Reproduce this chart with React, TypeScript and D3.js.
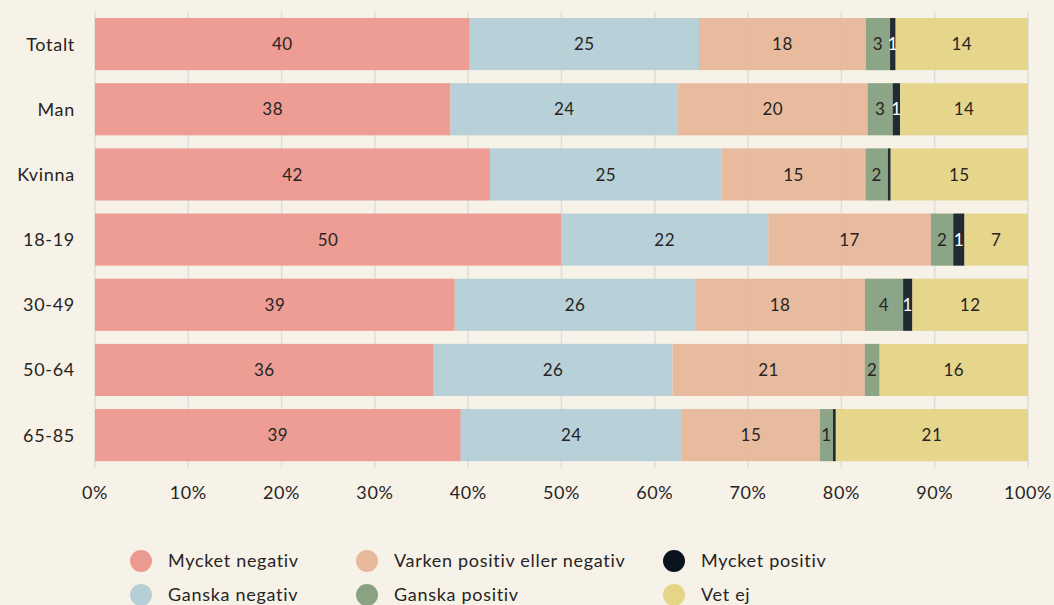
import * as d3 from "d3";
import { useEffect } from "react";

const categories = ["Totalt", "Man", "Kvinna", "18-19", "30-49", "50-64", "65-85"];
const seriesNames = [
  "Mycket negativ",
  "Ganska negativ",
  "Varken positiv eller negativ",
  "Ganska positiv",
  "Mycket positiv",
  "Vet ej",
];
const seriesColors = ["#ec9a90", "#b6ced6", "#e8b99b", "#88a282", "#0b141e", "#e4d587"];

// one array per series, one value per category (percent)
const mycketNegativ = [40.2, 38.1, 42.3, 49.9, 38.6, 36.3, 39.2];
const ganskaNegativ = [24.6, 24.4, 24.8, 22.2, 25.8, 25.6, 23.7];
const varken = [17.9, 20.3, 15.4, 17.4, 18.2, 20.6, 14.8];
const ganskaPositiv = [2.6, 2.7, 2.4, 2.4, 4.1, 1.6, 1.4];
const mycketPositiv = [0.6, 0.8, 0.3, 1.2, 1.0, 0, 0.3];
const vetEj = [14.2, 13.7, 14.7, 6.8, 12.4, 15.9, 20.6];

const xTicks = [0, 0.1, 0.2, 0.3, 0.4, 0.5, 0.6, 0.7, 0.8, 0.9, 1];

const width = 1054;
const height = 605;
const font = "Lato, 'Open Sans', sans-serif";
const textColor = "#262424";

export default function App() {
  useEffect(() => {
    document.body.style.margin = "0";
    document.body.style.background = "#f6f2e8";
  }, []);

  const seriesValues = [mycketNegativ, ganskaNegativ, varken, ganskaPositiv, mycketPositiv, vetEj];
  const rows = categories.map((c, i) => {
    const row: any = { category: c };
    seriesNames.forEach((s, j) => (row[s] = seriesValues[j][i]));
    return row;
  });

  // normalise so each bar fills 0-100%
  const stacked = d3.stack<any>().keys(seriesNames).offset(d3.stackOffsetExpand)(rows);

  const x = d3.scaleLinear().domain([0, 1]).range([95, 1028]);
  const y = d3
    .scaleBand()
    .domain(categories)
    .range([11.5, 467.7])
    .paddingInner(0.2)
    .paddingOuter(0.1);

  const [gridTop, gridBottom] = y.range();

  const legendCols = [141, 367, 674];
  const legendRows = [561, 595];

  return (
    <svg width={width} height={height} style={{ display: "block", background: "#f6f2e8" }}>
      <rect x={0} y={0} width={width} height={height} fill="#f6f2e8" />
      {/* gridlines */}
      {xTicks.map((t) => (
        <line
          key={t}
          x1={x(t)}
          x2={x(t)}
          y1={gridTop}
          y2={gridBottom}
          stroke="#dedcdc"
          strokeWidth={1.5}
        />
      ))}
      {/* bars */}
      {stacked.map((layer, j) => (
        <g key={layer.key} fill={seriesColors[j]}>
          {layer.map((d, i) => {
            const x0 = x(d[0]);
            const x1 = x(d[1]);
            if (x1 - x0 <= 0) return null;
            return (
              <rect
                key={i}
                x={x0}
                y={y(categories[i])}
                width={x1 - x0}
                height={y.bandwidth()}
                fillOpacity={j === 4 ? 0.9 : 0.97}
              />
            );
          })}
        </g>
      ))}
      {/* value labels */}
      {stacked.map((layer, j) => (
        <g key={layer.key + "-lbl"}>
          {layer.map((d, i) => {
            const v = Math.round(seriesValues[j][i]);
            if (v < 1) return null;
            return (
              <text
                key={i}
                x={(x(d[0]) + x(d[1])) / 2}
                y={(y(categories[i]) as number) + y.bandwidth() / 2}
                dy="0.36em"
                textAnchor="middle"
                fontFamily={font}
                fontSize={17}
                letterSpacing={0.5}
                fill={j === 4 ? "#ffffff" : textColor}
              >
                {v}
              </text>
            );
          })}
        </g>
      ))}
      {/* category labels */}
      {categories.map((c) => (
        <text
          key={c}
          x={75}
          y={(y(c) as number) + y.bandwidth() / 2}
          dy="0.36em"
          textAnchor="end"
          fontFamily={font}
          fontSize={18}
          letterSpacing={0.7}
          fill={textColor}
        >
          {c}
        </text>
      ))}
      {/* x axis tick labels */}
      {xTicks.map((t) => (
        <text
          key={"t" + t}
          x={x(t)}
          y={493}
          dy="0.36em"
          textAnchor="middle"
          fontFamily={font}
          fontSize={18}
          letterSpacing={0.6}
          fill={textColor}
        >
          {d3.format(".0%")(t)}
        </text>
      ))}
      {/* legend */}
      {seriesNames.map((s, j) => {
        const cx = legendCols[Math.floor(j / 2)];
        const cy = legendRows[j % 2];
        return (
          <g key={s}>
            <circle cx={cx} cy={cy} r={11} fill={seriesColors[j]} />
            <text
              x={cx + 27}
              y={cy}
              dy="0.36em"
              fontFamily={font}
              fontSize={18}
              letterSpacing={0.7}
              fill={textColor}
            >
              {s}
            </text>
          </g>
        );
      })}
    </svg>
  );
}
